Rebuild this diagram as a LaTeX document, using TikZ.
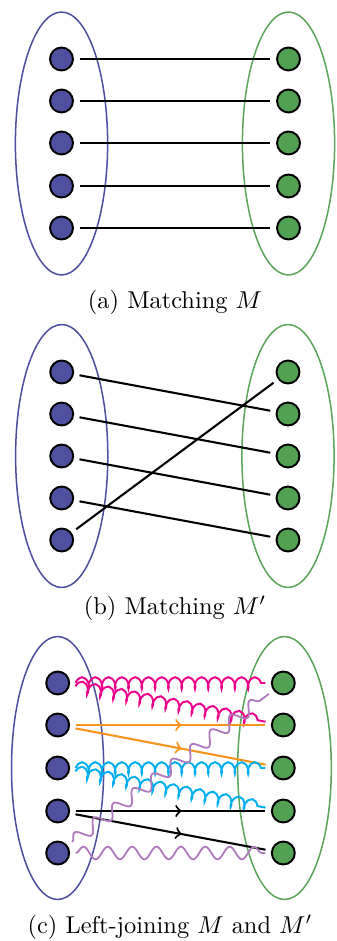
\documentclass[tikz,border=0pt]{standalone}
\usetikzlibrary{decorations.pathmorphing,decorations.markings}
\definecolor{setblue}{RGB}{80,80,160}
\definecolor{setgreen}{RGB}{82,160,82}
\definecolor{ellblue}{RGB}{78,78,160}
\definecolor{ellgreen}{RGB}{90,165,90}
\definecolor{gmag}{RGB}{236,0,140}
\definecolor{gorange}{RGB}{247,148,29}
\definecolor{gcyan}{RGB}{0,174,239}
\definecolor{gpurple}{RGB}{176,122,190}
\begin{document}
\begin{tikzpicture}[x=0.41pt,y=-0.41pt,
  dotl/.style={circle,draw=black,fill=setblue,line width=0.8pt,minimum size=9.4pt,inner sep=0pt,outer sep=2.7pt},
  dotr/.style={circle,draw=black,fill=setgreen,line width=0.8pt,minimum size=9.4pt,inner sep=0pt,outer sep=2.7pt},
  setl/.style={draw=ellblue,line width=0.62pt},
  setr/.style={draw=ellgreen,line width=0.62pt},
  matchline/.style={line width=0.85pt},
  midarrow/.style={postaction={decorate},decoration={markings,mark=at position 0.56 with {\arrow{>}}}},
  gluon/.style={decorate,decoration={coil,amplitude=2.4pt,segment length=5.45pt,aspect=0.5},line width=0.8pt},
  wavy/.style={decorate,decoration={snake,amplitude=2.6pt,segment length=10pt},line width=0.75pt},
  caption/.style={anchor=base,inner sep=0pt}]
\useasboundingbox (0,0) rectangle (336,941);
% ---------- panel (a)
\draw[setl] (61.5,143.5) ellipse [x radius=18.9pt,y radius=53.9pt];
\draw[setr] (288.5,143.5) ellipse [x radius=18.9pt,y radius=53.9pt];
\foreach \y [count=\i] in {59,101,143,186,228} {
  \node[dotl] (a\i) at (61.5,\y) {};
  \node[dotr] (A\i) at (288.5,\y) {};
}
\foreach \i in {1,...,5} \draw[matchline] (a\i) -- (A\i);
\node[caption] (capa) at (175,308) {(a) Matching $M$};
% ---------- panel (b)
\draw[setl] (61.7,456) ellipse [x radius=18.9pt,y radius=53.9pt];
\draw[setr] (288,456) ellipse [x radius=18.9pt,y radius=53.9pt];
\foreach \y [count=\i] in {372,414,456,498,540} {
  \node[dotl] (b\i) at (61.7,\y) {};
  \node[dotr] (B\i) at (288,\y) {};
}
\draw[matchline] (b1) -- (B2);
\draw[matchline] (b2) -- (B3);
\draw[matchline] (b3) -- (B4);
\draw[matchline] (b4) -- (B5);
\draw[matchline] (b5) -- (B1);
\node[caption] (capb) at (175,614) {(b) Matching $M'$};
% ---------- panel (c)
\draw[setl] (57.6,768) ellipse [x radius=18.9pt,y radius=53.9pt];
\draw[setr] (284.5,768) ellipse [x radius=19.2pt,y radius=53.9pt];
\foreach \y [count=\i] in {683,725,768,811,853} {
  \node[dotl] (c\i) at (57.7,\y) {};
  \node[dotr] (C\i) at (283.3,\y) {};
}
\draw[gluon,gmag] (c1) -- (C1);
\draw[gluon,gmag] (c1) -- (C2);
\draw[matchline,gorange,midarrow] (c2) -- (C2);
\draw[matchline,gorange,midarrow] (c2) -- (C3);
\draw[gluon,gcyan] (c3) -- (C3);
\draw[gluon,gcyan] (c3) -- (C4);
\draw[matchline,midarrow] (c4) -- (C4);
\draw[matchline,midarrow] (c4) -- (C5);
\draw[wavy,gpurple] (c5) -- (C5);
\draw[wavy,gpurple] (c5) -- (C1);
\node[caption] (capc) at (170,933) {(c) Left-joining $M$ and $M'$};
\end{tikzpicture}
\end{document}
